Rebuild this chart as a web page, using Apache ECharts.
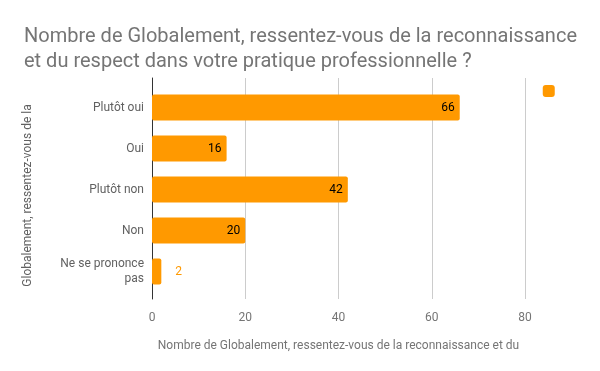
<!DOCTYPE html>
<html><head><meta charset="utf-8">
<script src="https://cdn.jsdelivr.net/npm/echarts@6/dist/echarts.min.js"></script>
<style>html,body{margin:0;padding:0;background:#fff}#c{width:600px;height:371px}</style>
</head><body><div id="c"></div>
<script>
const categories = ["Plutôt oui", "Oui", "Plutôt non", "Non", "Ne se prononce\npas"];
const values = [66, 16, 42, 20, 2];
const xTicks = [0, 20, 40, 60, 80];
const titleText = "Nombre de Globalement, ressentez-vous de la reconnaissance\net du respect dans votre pratique professionnelle ?";
const xName = "Nombre de Globalement, ressentez-vous de la reconnaissance et du";
const yName = "Globalement, ressentez-vous de la";

const chart = echarts.init(document.getElementById('c'), null, {renderer: 'canvas'});
chart.setOption({
  animation: false,
  textStyle: {fontFamily: 'Roboto'},
  title: {text: titleText, left: 19, top: 19,
    textStyle: {fontSize: 20, fontWeight: 'normal', color: '#757575', lineHeight: 25, fontFamily: 'Roboto'}},
  legend: {right: 35, top: 80, itemWidth: 12, itemHeight: 12, icon: 'roundRect',
    data: [{name: ' '}], textStyle: {fontSize: 1}},
  grid: [
    {left: 152, right: 75, top: 87, height: 205, containLabel: false},
    {left: 152, right: 75, top: 78, height: 221, containLabel: false}
  ],
  xAxis: [
    {type: 'value', min: 0, max: 80, interval: 20, gridIndex: 0,
      name: xName, nameLocation: 'middle', nameGap: 48,
      nameTextStyle: {fontSize: 12, color: '#757575'},
      axisLine: {show: false}, axisTick: {show: false},
      axisLabel: {color: '#757575', fontSize: 12, margin: 20},
      splitLine: {show: false}},
    {type: 'value', min: 0, max: 80, interval: 20, gridIndex: 1,
      axisLine: {show: false}, axisTick: {show: false}, axisLabel: {show: false},
      splitLine: {lineStyle: {color: '#cccccc'}}}
  ],
  yAxis: [
    {type: 'category', data: categories, inverse: true, gridIndex: 0,
      name: yName, nameLocation: 'middle', nameGap: 118, nameRotate: 90,
      nameTextStyle: {fontSize: 12, color: '#616161', padding: [0, 12, 0, 0]},
      axisLine: {show: false}, axisTick: {show: false},
      axisLabel: {color: '#616161', fontSize: 12, margin: 8, lineHeight: 15}},
    {type: 'value', gridIndex: 1, min: 0, max: 1,
      axisLine: {show: true, lineStyle: {color: '#333'}}, axisTick: {show: false},
      axisLabel: {show: false}, splitLine: {show: false}}
  ],
  series: [{name: ' ', type: 'bar', barWidth: 26, color: '#ff9900', z: 3,
    xAxisIndex: 0, yAxisIndex: 0,
    itemStyle: {borderRadius: 2},
    data: values.map(v => ({value: v, label: v < 5 ?
      {show: true, position: 'right', distance: 14, color: '#ff9900', fontSize: 12} :
      {show: true, position: 'insideRight', distance: 5, color: '#000', fontSize: 12}}))}]
});
</script></body></html>
